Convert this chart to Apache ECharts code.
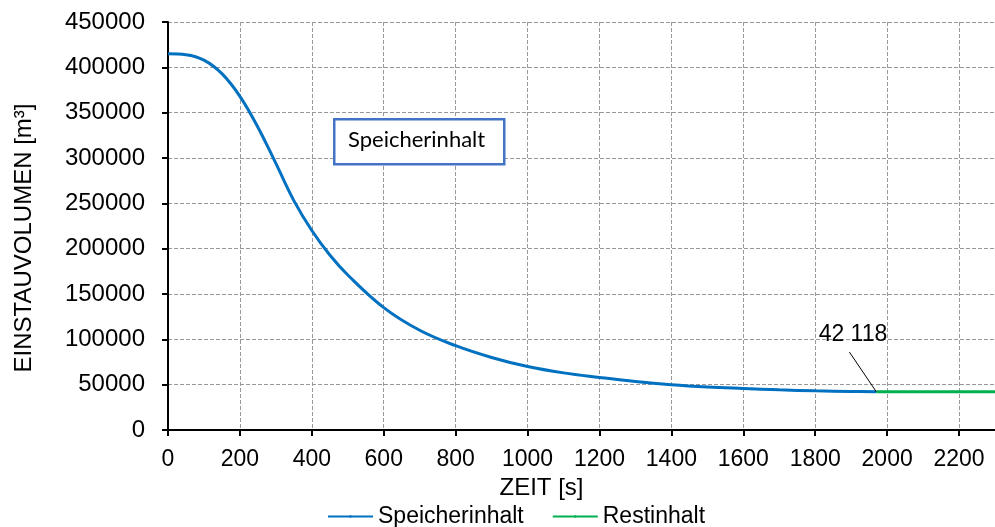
<!DOCTYPE html>
<html>
<head>
<meta charset="utf-8">
<script src="https://cdn.jsdelivr.net/npm/echarts@6/dist/echarts.min.js"></script>
<style>
  html, body { margin: 0; padding: 0; background: #fff; }
  #main { width: 995px; height: 527px; }
</style>
</head>
<body>
<div id="main"></div>
<script>
// Zeit [s] und Einstauvolumen [m³]
const zeit = [0, 50, 100, 150, 200, 250, 300, 350, 400, 450, 500, 600, 700, 800, 900, 1000, 1100, 1200, 1300, 1400, 1500, 1600, 1700, 1800, 1900, 1970]
const speicherinhalt = [415000, 414000, 408000, 393000, 368000, 334000, 294000, 253000, 220000, 193000, 171000, 135000, 110000, 93000, 80000, 70000, 63000, 58000, 53500, 50000, 47500, 45800, 44300, 43200, 42500, 42118]
const restZeit = [1970, 2300]
const restinhalt = [42118, 42118]
const restLabel = '42 118'

const font = 'Arial, "Liberation Sans", sans-serif'

const chart = echarts.init(document.getElementById('main'))
chart.setOption({
  backgroundColor: '#fff',
  animation: false,
  grid: { left: 168, top: 22, right: -7, bottom: 97 },
  legend: {
    left: 322,
    top: 500,
    itemWidth: 45,
    itemHeight: 3,
    itemGap: 28,
    textStyle: { fontFamily: font, fontSize: 23, color: '#000' },
    data: ['Speicherinhalt', 'Restinhalt']
  },
  xAxis: {
    type: 'value',
    min: 0,
    max: 2300,
    interval: 200,
    name: 'ZEIT [s]',
    nameLocation: 'middle',
    nameGap: 46,
    nameTextStyle: { fontFamily: font, fontSize: 24, color: '#000', padding: [0, 80, 0, 0] },
    axisLine: { show: true, onZero: false, lineStyle: { color: '#000', width: 2 } },
    axisTick: { show: true, length: 6, lineStyle: { color: '#000', width: 2 } },
    axisLabel: { fontFamily: font, fontSize: 23, color: '#000', margin: 18, showMaxLabel: false, formatter: v => String(v) },
    splitLine: { show: true, lineStyle: { color: '#999', type: 'dashed', width: 1 } }
  },
  yAxis: {
    type: 'value',
    min: 0,
    max: 450000,
    interval: 50000,
    name: 'EINSTAUVOLUMEN [m³]',
    nameLocation: 'middle',
    nameGap: 132,
    nameTextStyle: { fontFamily: font, fontSize: 24, color: '#000', padding: [0, 24, 0, 0] },
    axisLine: { show: true, lineStyle: { color: '#000', width: 2 } },
    axisTick: { show: true, length: 6, lineStyle: { color: '#000', width: 2 } },
    axisLabel: { fontFamily: font, fontSize: 24, color: '#000', margin: 23, formatter: v => String(v) },
    splitLine: { show: true, lineStyle: { color: '#999', type: 'dashed', width: 1 } }
  },
  series: [
    {
      name: 'Speicherinhalt',
      type: 'line',
      smooth: 0.4,
      symbol: 'none',
      lineStyle: { color: '#0070C0', width: 3 },
      itemStyle: { color: '#0070C0' },
      data: zeit.map((t, i) => [t, speicherinhalt[i]]),
      markLine: {
        silent: true,
        symbol: 'none',
        lineStyle: { color: '#000', width: 1, type: 'solid' },
        label: { show: false },
        data: [[{ coord: [zeit[zeit.length - 1], speicherinhalt[speicherinhalt.length - 1]] }, { coord: [1895, 86000] }]]
      },
      markPoint: {
        silent: true,
        symbol: 'rect',
        symbolSize: 1,
        itemStyle: { color: 'rgba(0,0,0,0)' },
        label: { show: true, position: 'inside', formatter: restLabel, fontFamily: font, fontSize: 23, color: '#000' },
        data: [{ coord: [1905, 105000] }]
      }
    },
    {
      name: 'Restinhalt',
      type: 'line',
      symbol: 'none',
      lineStyle: { color: '#00B050', width: 3 },
      itemStyle: { color: '#00B050' },
      data: restZeit.map((t, i) => [t, restinhalt[i]])
    }
  ],
  graphic: [
    {
      type: 'rect',
      left: 333,
      top: 118,
      shape: { width: 170, height: 45 },
      style: { fill: '#fff', stroke: '#4472C4', lineWidth: 2.5 },
      z: 100
    },
    {
      type: 'text',
      left: 348,
      top: 129,
      style: { text: 'Speicherinhalt', font: '22px Lato, "Open Sans", sans-serif', fill: '#000' },
      z: 101
    }
  ]
})
</script>
</body>
</html>
